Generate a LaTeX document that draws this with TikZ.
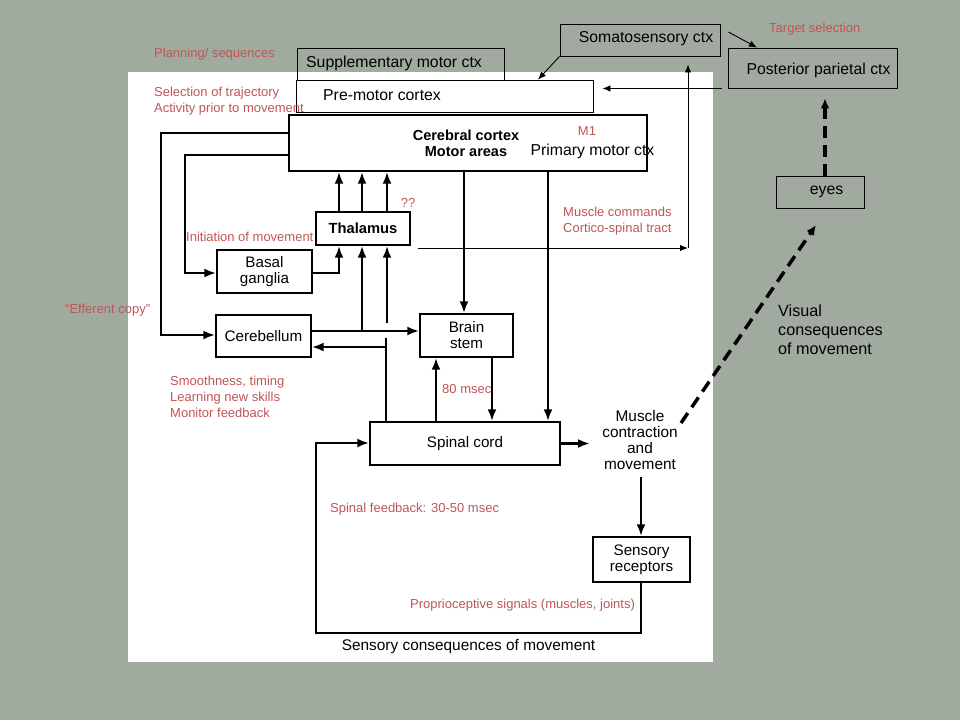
\documentclass[tikz,border=0pt]{standalone}
\usepackage{fontspec}
\setmainfont{Liberation Sans}
\usetikzlibrary{arrows.meta,calc}
\definecolor{bgc}{RGB}{160,170,159}
\definecolor{redt}{RGB}{192,86,86}
\begin{document}
\begin{tikzpicture}[x=1pt,y=-1pt,
  figbox/.style={draw=black, line width=1.4pt, inner sep=0pt, align=center, font=\fontsize{15.2}{16}\selectfont},
  slidebox/.style={draw=black, line width=0.9pt, inner sep=0pt},
  rlab/.style={text=redt, font=\fontsize{13}{16}\selectfont, align=left, inner sep=0pt, anchor=west},
  blab/.style={text=black, font=\fontsize{15.8}{17}\selectfont, inner sep=0pt},
  figlab/.style={text=black, font=\fontsize{15.2}{16}\selectfont, inner sep=0pt, align=center},
  bigarrow/.style={line width=2.6pt, -{Latex[length=12pt,width=9pt]}},
  bigline/.style={line width=2.6pt},
  smallarrow/.style={line width=0.9pt, -{Latex[length=8pt,width=6.5pt]}},
  dasharrow/.style={line width=3.5pt, dash pattern=on 12pt off 7pt, -{Latex[length=10pt,width=9pt]}},
]
% background and white panel
\fill[bgc] (0,0) rectangle (960,720);
\useasboundingbox (0,0) rectangle (960,720);
\fill[white] (128,72) rectangle (713,662);

% slide boxes
\node[slidebox, minimum width=207pt, minimum height=32pt] (sma) at (400.5,64) {};
\node[blab, anchor=center] (smat) at (394,63) {Supplementary motor ctx};
\node[slidebox, fill=white, minimum width=297pt, minimum height=32pt] (pmc) at (444.5,96) {};
\node[blab, anchor=west] (pmct) at (323,95) {Pre-motor cortex};
\node[slidebox, minimum width=160pt, minimum height=32pt] (soma) at (640,40) {};
\node[blab] (somat) at (646,39) {Somatosensory ctx};
\node[slidebox, minimum width=169pt, minimum height=40pt] (ppc) at (812.5,68) {};
\node[blab] (ppct) at (818.5,70) {Posterior parietal ctx};
\node[slidebox, minimum width=88pt, minimum height=32pt] (eyes) at (820,192) {};
\node[blab] (eyest) at (826.5,192) {eyes};

% figure boxes
\node[figbox, minimum width=358pt, minimum height=56pt] (cortex) at (468,143) {};
\node[figlab, font=\fontsize{14.5}{16}\selectfont\bfseries] (cortext) at (466,143) {Cerebral cortex\\Motor areas};
\node[blab] (m1t) at (592.5,151) {Primary motor ctx};
\node[figbox, minimum width=94pt, minimum height=33pt, font=\fontsize{14.7}{16}\selectfont\bfseries] (thal) at (363,228.5) {Thalamus};
\node[figbox, minimum width=95pt, minimum height=43pt] (bg) at (264.5,271.5) {Basal\\ganglia};
\node[figbox, minimum width=95pt, minimum height=42pt] (cb) at (263.5,336) {Cerebellum};
\node[figbox, minimum width=93pt, minimum height=43pt] (bs) at (466.5,335.5) {Brain\\stem};
\node[figbox, minimum width=190pt, minimum height=43pt] (sc) at (465,443.5) {Spinal cord};
\node[figlab, font=\fontsize{15.4}{15.7}\selectfont] (mus) at (640,440) {Muscle\\contraction\\and\\movement};
\node[figbox, minimum width=97pt, minimum height=45pt] (sr) at (641.5,559.5) {Sensory\\receptors};
\node[figlab, font=\fontsize{15.4}{16}\selectfont] (sct) at (468.5,647) {Sensory consequences of movement};

% red labels
\node[rlab] (plan) at (154,54) {Planning/ sequences};
\node[rlab] (sel) at (154,101) {Selection of trajectory\\Activity prior to movement};
\node[rlab] (tgt) at (769,29) {Target selection};
\node[rlab, anchor=center] (m1) at (587,131) {M1};
\node[rlab, anchor=center] (qq) at (408,203) {??};
\node[rlab] (mc) at (563,221) {Muscle commands\\Cortico-spinal tract};
\node[rlab] (init) at (186,237) {Initiation of movement};
\node[rlab] (eff) at (65,310) {“Efferent copy”};
\node[rlab] (smooth) at (170,397) {Smoothness, timing\\Learning new skills\\Monitor feedback};
\node[rlab] (ms80) at (442,389) {80 msec};
\node[rlab] (spfb) at (330,509) {Spinal feedback: 30-50 msec};
\node[rlab] (prop) at (410,605) {Proprioceptive signals (muscles, joints)};

% visual consequences
\node[blab, font=\fontsize{16.2}{19}\selectfont, align=left, anchor=west] (vis) at (778,330) {Visual\\consequences\\of movement};

% ---- figure connectors ----
\draw[bigarrow] (cortex.west |- 0,133) -- (161,133) -- (161,335) -- (cb.west |- 0,335);
\draw[bigarrow] (cortex.west |- 0,155) -- (185,155) -- (185,273) -- (bg.west |- 0,273);
\draw[bigarrow] (bg.east |- 0,273) -- (339,273) -- (339,0 |- thal.south);
\foreach \xx in {339,362,387} \draw[bigarrow] (\xx,0 |- thal.north) -- (\xx,0 |- cortex.south);
\draw[bigarrow] (cb.east |- 0,331) -- (bs.west |- 0,331);
\draw[bigarrow] (362,331) -- (362,0 |- thal.south);
\draw[bigarrow] (387,323) -- (387,0 |- thal.south);
\draw[bigline] (386,0 |- sc.north) -- (386,338);
\draw[bigarrow] (386,347) -- (cb.east |- 0,347);
\draw[bigarrow] (464,0 |- cortex.south) -- (464,0 |- bs.north);
\draw[bigarrow] (548,0 |- cortex.south) -- (548,0 |- sc.north);
\draw[bigarrow] (436,0 |- sc.north) -- (436,0 |- bs.south);
\draw[bigarrow] (492,0 |- bs.south) -- (492,0 |- sc.north);
\draw[bigarrow] (sc.east) -- (590,0 |- sc.east);
\draw[bigarrow] (641,477) -- (641,0 |- sr.north);
\draw[bigarrow] (641,0 |- sr.south) -- (641,633) -- (316,633) -- (316,443) -- (sc.west |- 0,443);

% ---- slide connectors ----
\draw[smallarrow] (soma.south west) -- (538,0 |- pmc.north);
\draw[smallarrow] ($(soma.east)+(8,-8)$) -- (757,0 |- ppc.north);
\draw[smallarrow] ($(ppc.south west)+(-6,0)$) -- ($(pmc.east |- ppc.south)+(9,0)$);
\coordinate (mcs) at ($(thal.east)+(7,19.5)$);
\coordinate (mce) at (688,248);
\draw[smallarrow] (mcs) -- (mce);
\draw[smallarrow] (mce) -- ($(688,0 |- soma.south)+(0,8)$);
\draw[dasharrow] (825,0 |- eyes.north) -- ($(825,0 |- ppc.south)+(0,10)$);
\draw[dasharrow] (681,423) -- (816,225);
\end{tikzpicture}
\end{document}
